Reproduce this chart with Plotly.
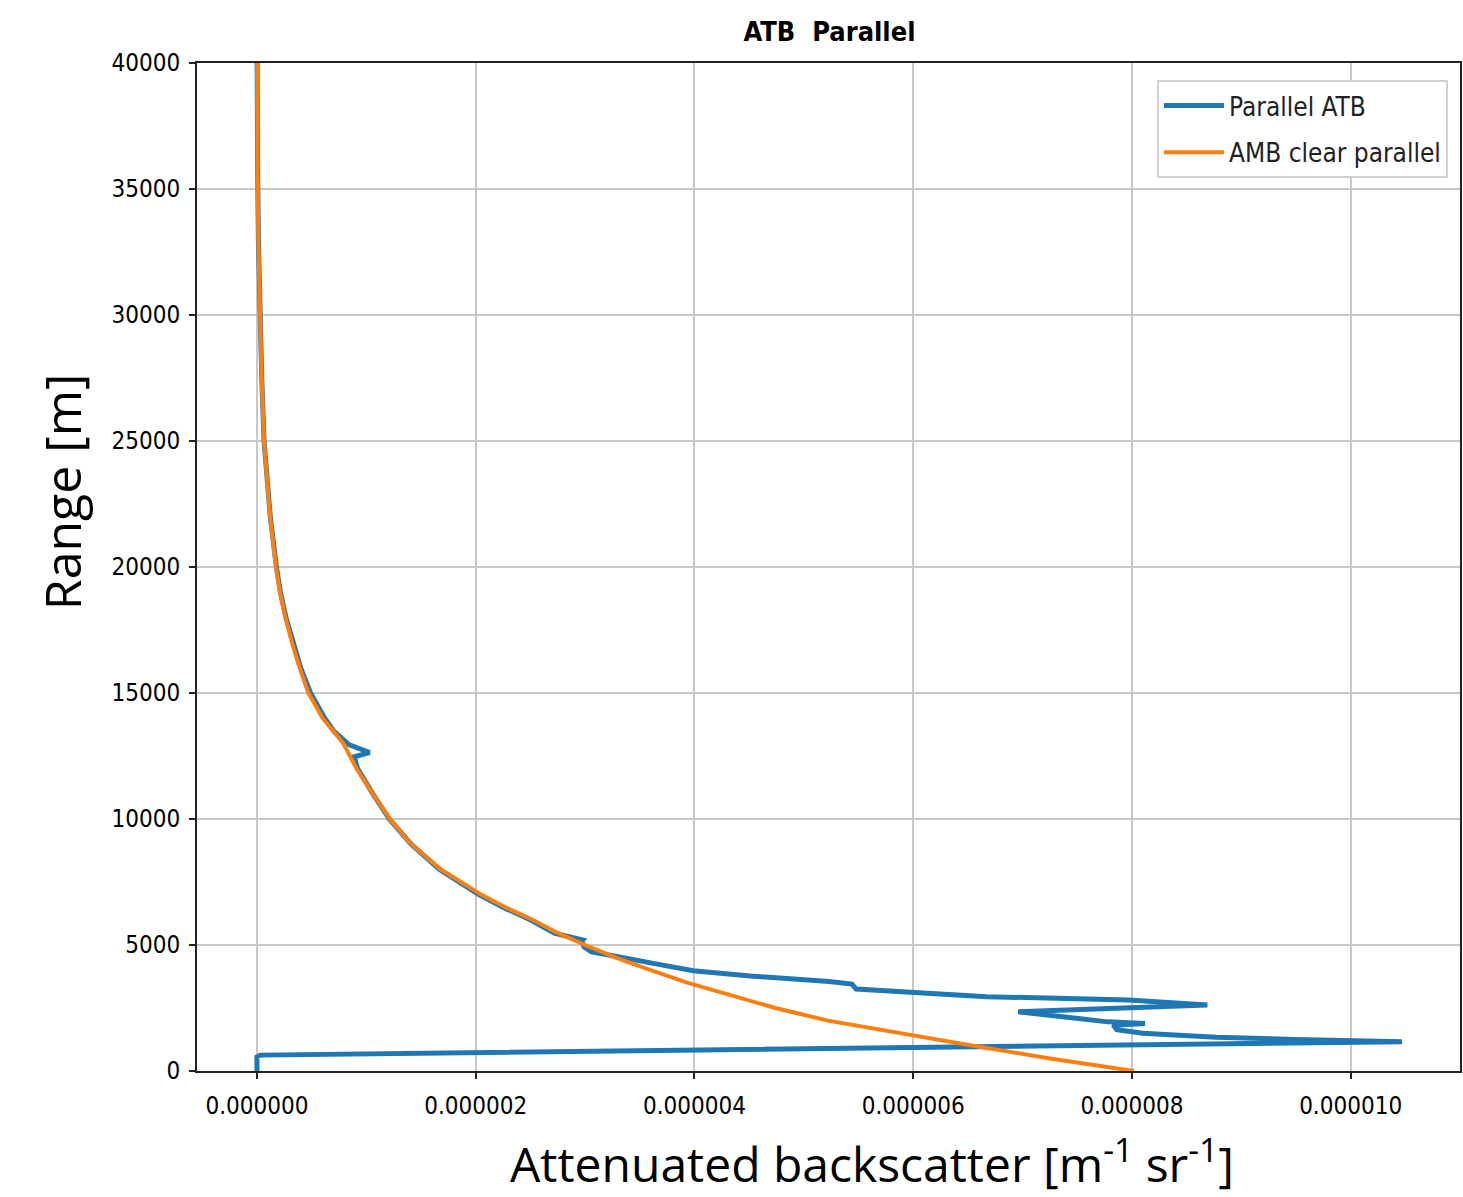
import plotly.graph_objects as go

# Data (x in 1e-6 m^-1 sr^-1, range in m)
amb_range = [0, 500, 1000, 1500, 2000, 2500, 3000, 3500, 4000, 4500, 5000, 5500, 6000, 6500,
             7000, 7500, 8000, 9000, 10000, 11000, 12000, 13000, 14000, 15000, 16000, 17000,
             18000, 19000, 20000, 22000, 25000, 27500, 30000, 33000, 36000, 40000]
amb_val = [8.02, 7.25, 6.55, 5.9, 5.22, 4.74, 4.33, 3.94, 3.6, 3.28, 3.0, 2.74, 2.52, 2.27,
           2.05, 1.86, 1.68, 1.41, 1.215, 1.06, 0.91, 0.79, 0.6, 0.47, 0.39, 0.32,
           0.26, 0.21, 0.174, 0.12, 0.064, 0.043, 0.025, 0.012, 0.006, 0.002]

atb_range = [0, 560, 630, 1120, 1160, 1250, 1340, 1500, 1640, 1820, 1880, 1950, 2350, 2620,
             2820, 2950, 3110, 3250, 3450, 3550, 3770, 3980, 4200, 4540, 4730, 4930, 5150,
             5200, 5470, 6000, 6500, 7000, 7500, 8000, 9000, 10000, 11000, 12000, 12470,
             12640, 12950, 13500, 14000, 15000, 16000, 17000, 18000, 19000, 20000, 22000,
             25000, 27500, 30000, 33000, 36000, 40000]
atb_val = [0.0, 0.0, 0.03, 9.0, 10.47, 9.5, 8.77, 8.1, 7.86, 7.83, 8.12, 7.78, 6.96, 8.69,
           7.97, 6.67, 5.95, 5.48, 5.44, 5.23, 4.51, 3.99, 3.71, 3.28, 3.06, 2.99, 2.97,
           2.98, 2.72, 2.5, 2.25, 2.03, 1.84, 1.67, 1.41, 1.21, 1.06, 0.92, 0.89,
           1.03, 0.84, 0.7, 0.62, 0.49, 0.4, 0.33, 0.265, 0.215, 0.178, 0.122,
           0.065, 0.044, 0.026, 0.013, 0.006, 0.002]

x_ticks = [0, 2e-6, 4e-6, 6e-6, 8e-6, 10e-6]
y_ticks = [0, 5000, 10000, 15000, 20000, 25000, 30000, 35000, 40000]

narrow = "Liberation Sans Narrow, DejaVu Sans Condensed, Arial Narrow, DejaVu Sans, sans-serif"
big = "Open Sans, Noto Sans, sans-serif"

fig = go.Figure()
fig.add_trace(go.Scatter(x=[v * 1e-6 for v in atb_val], y=atb_range, mode="lines",
                         name="Parallel ATB", legendgroup="a",
                         line=dict(color="#1f77b4", width=5)))
fig.add_trace(go.Scatter(x=[v * 1e-6 for v in amb_val], y=amb_range, mode="lines",
                         name="AMB clear parallel", legendgroup="b",
                         line=dict(color="#ff7f0e", width=4)))

axis_common = dict(showline=True, linecolor="#222222", linewidth=2, mirror=True,
                   showgrid=True, gridcolor="#c8c8c8", gridwidth=2,
                   ticks="outside", ticklen=6, tickwidth=2, tickcolor="#222222",
                   zeroline=False,
                   tickfont=dict(family=narrow, size=24, color="black"))

L, R, T, B = 197, 1, 63, 126
W, H = 1463, 1197
pw, ph = W - L - R, H - T - B

fig.update_layout(
    width=W, height=H,
    margin=dict(l=L, r=R, t=T, b=B),
    paper_bgcolor="white", plot_bgcolor="white",
    title=dict(text="<b>ATB  Parallel</b>", x=829.5 / W, xanchor="center",
               y=1 - 32 / H, yanchor="middle",
               font=dict(family=narrow, size=27, color="black")),
    xaxis=dict(range=[-0.548e-6, 11.0e-6], tickvals=x_ticks, tickformat=".6f",
               ticklabelstandoff=6, **axis_common),
    yaxis=dict(range=[0, 40000], tickvals=y_ticks, tickformat="d",
               ticklabelstandoff=4, **axis_common),
    legend=dict(x=(1450 - L) / pw, y=1 - (80 - T) / ph, xanchor="right", yanchor="top",
                bordercolor="#d0d0d0", borderwidth=2, bgcolor="white",
                font=dict(family=narrow, size=26, color="#222222"),
                traceorder="grouped", tracegroupgap=10, itemwidth=60),
    showlegend=True,
    annotations=[
        dict(text="Attenuated backscatter [m<sup>-1</sup> sr<sup>-1</sup>]",
             xref="paper", yref="paper", x=(873 - L) / pw, y=-(1161 - 1071) / ph,
             xanchor="center", yanchor="middle", showarrow=False,
             font=dict(family=big, size=48, color="black")),
        dict(text="Range [m]", textangle=-90,
             xref="paper", yref="paper", x=-(L - 62) / pw, y=(1071 - 492) / ph,
             xanchor="center", yanchor="middle", showarrow=False,
             font=dict(family=big, size=50, color="black")),
    ],
)

fig.write_html("out.html", config={"displayModeBar": False},
               post_script="document.body.style.margin='0';document.body.style.overflow='hidden';")
